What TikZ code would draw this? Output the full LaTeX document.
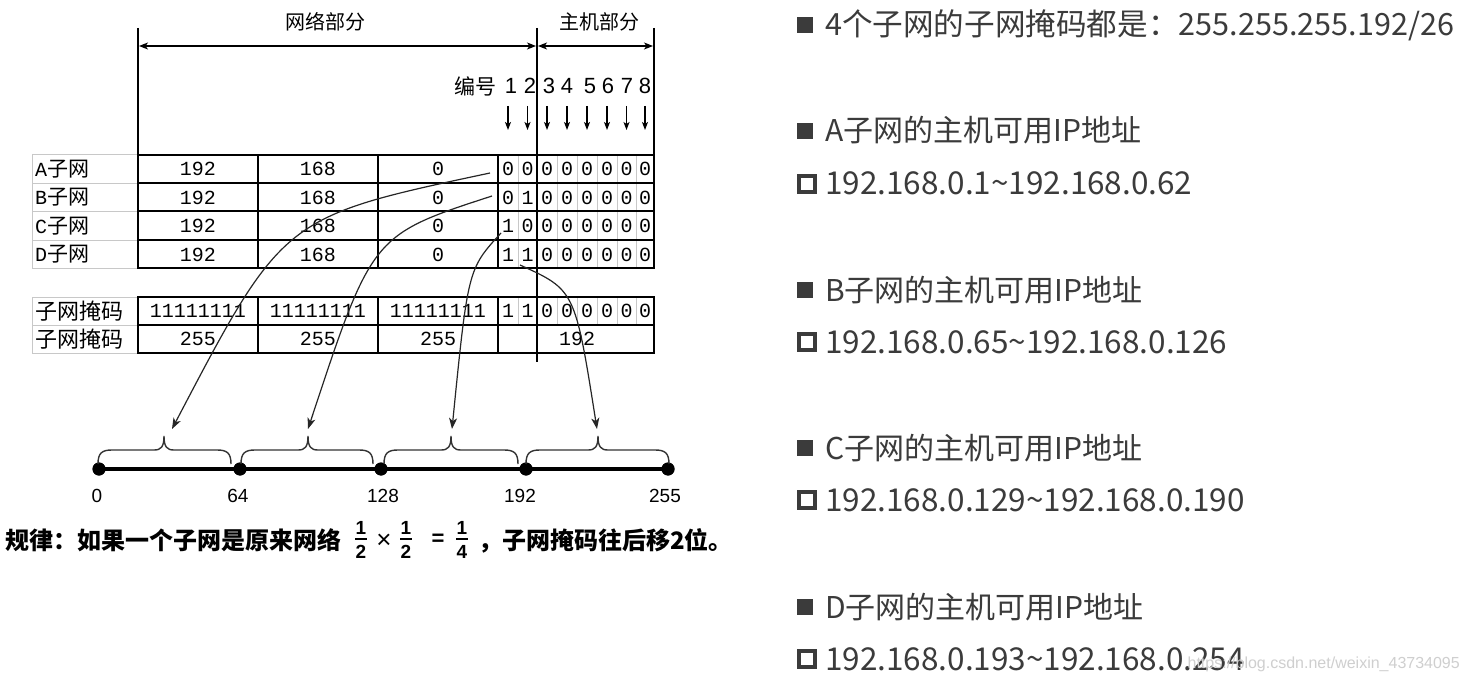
\documentclass[tikz,border=0pt]{standalone}
\usepackage{fontspec}
\setmainfont{Liberation Sans}
\newfontfamily\cjk{Noto Sans CJK SC}
\newfontfamily\tabmono{Liberation Mono}
\usetikzlibrary{arrows.meta}
\definecolor{txtgray}{HTML}{3B3B3B}
\definecolor{gridgray}{HTML}{C8C8C8}
\definecolor{wmgray}{HTML}{CFCFCF}
\newcommand\fsz[1]{\fontsize{#1}{#1}\selectfont}
\begin{document}
\begin{tikzpicture}[x=1pt,y=-1pt,
  thickline/.style={line width=2.6pt, line cap=rect},
  thinline/.style={line width=1.2pt},
  gridline/.style={draw=gridgray, line width=0.9pt},
  lbl/.style={inner sep=0pt, anchor=west},
  cell/.style={inner sep=0pt, font=\tabmono\fsz{20}},
  hdr/.style={inner sep=0pt, font=\cjk\fsz{20}},
  numlbl/.style={inner sep=0pt, font=\fsz{22}},
  tipA/.style={-{Stealth[length=11pt,width=8pt,inset=3pt]}},
  curvearrow/.style={draw=black!85, line width=1.2pt, tipA},
  bracestyle/.style={draw=black!80, line width=1.4pt},
  dotnode/.style={circle, fill=black, inner sep=0pt, minimum size=13pt},
  axlbl/.style={inner sep=0pt, font=\fsz{19}},
  rtext/.style={inner sep=0pt, anchor=base west, text=txtgray, font=\cjk\fsz{30}},
  rnum/.style={inner sep=0pt, anchor=base west, text=txtgray, font=\cjk\fsz{31.5}},
  fullsq/.style={fill=txtgray, draw=none, inner sep=0pt, minimum size=16pt},
  hollowsq/.style={draw=txtgray, line width=3.6pt, inner sep=0pt, minimum size=16pt},
  ruletext/.style={inner sep=0pt, anchor=base west, font=\cjk\bfseries\fsz{24}},
  fracdig/.style={inner sep=0pt, font=\bfseries\fsz{19}},
  fracbar/.style={line width=2.6pt}
]
\fill[white] (0,0) rectangle (1468,682);
\useasboundingbox (0,0) rectangle (1468,682);

% ---------------- header ----------------
\node[hdr] (net) at (325,22) {网络部分};
\node[hdr] (host) at (599,22) {主机部分};
\coordinate (topL) at (138,28);
\coordinate (topM) at (537,28);
\coordinate (topR) at (654,28);
\coordinate (botL) at (138,155);
\coordinate (botM) at (537,362);
\coordinate (botR) at (654,155);
\draw[thinline] (topL) -- (botL);
\draw[thinline] (topM) -- (botM);
\draw[thinline] (topR) -- (botR);
\coordinate (arL) at (139,46);
\coordinate (arM1) at (536,46);
\coordinate (arM2) at (538,46);
\coordinate (arR) at (653,46);
\draw[thinline,{Stealth[length=9pt,width=7pt,inset=2.5pt]}-{Stealth[length=9pt,width=7pt,inset=2.5pt]}] (arL) -- (arM1);
\draw[thinline,{Stealth[length=9pt,width=7pt,inset=2.5pt]}-{Stealth[length=9pt,width=7pt,inset=2.5pt]}] (arM2) -- (arR);

\node[inner sep=0pt, font=\cjk\fsz{21}] (bh) at (475,86) {编号};
\foreach \i/\x/\ax in {1/511/508,2/530/527.5,3/549/547,4/567/567,5/590/587,6/608/607,7/627/626.5,8/645/645} {
  \node[numlbl] (n\i) at (\x,86) {\i};
  \coordinate (ua\i) at (\ax,106);
  \coordinate (ub\i) at (\ax,130);
  \draw[thinline,-{Stealth[length=8pt,width=6pt,inset=2pt]}] (ua\i) -- (ub\i);
}

% ---------------- label grid ----------------
\foreach \y in {154,183,211,240,268} \draw[gridline] (32,\y) -- (138,\y);
\draw[gridline] (32,154) -- (32,268);
\foreach \y in {297,325,353} \draw[gridline] (32,\y) -- (138,\y);
\draw[gridline] (32,297) -- (32,353);

\node[lbl] (la) at (35,169) {{\tabmono\fsz{20}A}{\cjk\fsz{21}子网}};
\node[lbl] (lb) at (35,197.5) {{\tabmono\fsz{20}B}{\cjk\fsz{21}子网}};
\node[lbl] (lc) at (35,226) {{\tabmono\fsz{20}C}{\cjk\fsz{21}子网}};
\node[lbl] (ld) at (35,254.5) {{\tabmono\fsz{20}D}{\cjk\fsz{21}子网}};
\node[lbl] (lm1) at (35,311) {\cjk\fsz{22}子网掩码};
\node[lbl] (lm2) at (35,339) {\cjk\fsz{22}子网掩码};

% ---------------- table ----------------
\foreach \x in {518,557,577,597,617,636} {
  \draw[gridline] (\x,155) -- (\x,268);
  \draw[gridline] (\x,297) -- (\x,325);
}
\draw[thinline] (537,150) -- (537,362);
\draw[thickline] (138,155) rectangle (654,268);
\foreach \y in {183,211,240} \draw[thickline] (138,\y) -- (654,\y);
\foreach \x in {258,378,498} \draw[thickline] (\x,155) -- (\x,268);
\draw[thickline] (138,297) rectangle (654,353);
\draw[thickline] (138,325) -- (654,325);
\foreach \x in {258,378,498} \draw[thickline] (\x,297) -- (\x,353);

\foreach \r/\y in {a/169,b/197.5,c/226,d/254.5} {
  \node[cell] (\r-1) at (198,\y) {192};
  \node[cell] (\r-2) at (318,\y) {168};
  \node[cell] (\r-3) at (438,\y) {0};
}
\foreach \r/\y/\p/\q in {a/169/0/0,b/197.5/0/1,c/226/1/0,d/254.5/1/1,m/311/1/1} {
  \node[cell] (\r-b1) at (508,\y) {\p};
  \node[cell] (\r-b2) at (527.5,\y) {\q};
  \foreach \k/\x in {3/547,4/567,5/587,6/607,7/626.5,8/645}
    \node[cell] (\r-b\k) at (\x,\y) {0};
}
\node[cell] (m-1) at (198,311) {11111111};
\node[cell] (m-2) at (318,311) {11111111};
\node[cell] (m-3) at (438,311) {11111111};
\node[cell] (v-1) at (198,339) {255};
\node[cell] (v-2) at (318,339) {255};
\node[cell] (v-3) at (438,339) {255};
\node[cell] (v-4) at (577,339) {192};

% ---------------- number line ----------------
\node[dotnode] (d0) at (99,469) {};
\node[dotnode] (d1) at (240,469) {};
\node[dotnode] (d2) at (381,469) {};
\node[dotnode] (d3) at (526,469) {};
\node[dotnode] (d4) at (668,469) {};
\draw[line width=4pt] (d0.center) -- (d4.center);
\foreach \n in {d0,d1,d2,d3,d4} \fill (\n) circle (6.5pt);
\node[axlbl] (x0) at (97,496) {0};
\node[axlbl] (x1) at (238,496) {64};
\node[axlbl] (x2) at (383,496) {128};
\node[axlbl] (x3) at (520,496) {192};
\node[axlbl] (x4) at (665,496) {255};

\foreach \a/\b/\t in {98/231/164,241/373/308,384/518/451,526/669/598} {
  \draw[bracestyle] (\a,464) .. controls (\a,453) and (\a+4,450) .. (\a+14,450)
     -- (\t-10,450) .. controls (\t-3,450) and (\t,447) .. (\t,436)
     .. controls (\t,447) and (\t+3,450) .. (\t+10,450)
     -- (\b-14,450) .. controls (\b-4,450) and (\b,453) .. (\b,464);
}

% ---------------- curved arrows ----------------
\coordinate (sA) at (490,173);
\coordinate (sB) at (492,196);
\coordinate (sC) at (501,233);
\coordinate (sD) at (520,265);
\coordinate (tA) at (172,429);
\coordinate (tB) at (308,429);
\coordinate (tC) at (452,429);
\coordinate (tD) at (597,429);
\draw[curvearrow] (sA) .. controls (283,217) .. (tA);
\draw[curvearrow] (sB) .. controls (372,235) .. (tB);
\draw[curvearrow] (sC) .. controls (468,269) .. (tC);
\draw[curvearrow] (sD) .. controls (575,290) .. (tD);

% ---------------- rule text ----------------
\node[ruletext] (r1) at (5,549) {规律：如果一个子网是原来网络};
\node[fracdig] (f1n) at (361,528) {1};
\node[fracdig] (f1d) at (361,552) {2};
\draw[fracbar] (355,539) -- (367,539);
\node[inner sep=0pt, font=\fsz{26}] (times) at (384,541) {×};
\node[fracdig] (f2n) at (406,528) {1};
\node[fracdig] (f2d) at (406,552) {2};
\draw[fracbar] (400,539) -- (412,539);
\node[inner sep=0pt, font=\bfseries\fsz{22}] (eq) at (438,540) {=};
\node[fracdig] (f3n) at (462,528) {1};
\node[fracdig] (f3d) at (462,552) {4};
\draw[fracbar] (456,539) -- (468,539);
\node[ruletext] (r2) at (478,549) {，子网掩码往后移2位。};

% ---------------- right column ----------------
\node[fullsq] (q1) at (805,25) {};
\node[rtext, font=\cjk\fsz{30.6}] (t1) at (825,36) {4个子网的子网掩码都是：255.255.255.192/26};
\node[fullsq] (q2) at (805,131) {};
\node[rtext] (t2) at (825,142) {A子网的主机可用IP地址};
\node[hollowsq] (q3) at (807,184) {};
\node[rnum] (t3) at (825,195) {192.168.0.1\textasciitilde192.168.0.62};
\node[fullsq] (q4) at (805,290) {};
\node[rtext] (t4) at (825,301) {B子网的主机可用IP地址};
\node[hollowsq] (q5) at (807,342) {};
\node[rnum] (t5) at (825,353) {192.168.0.65\textasciitilde192.168.0.126};
\node[fullsq] (q6) at (805,448) {};
\node[rtext] (t6) at (825,459) {C子网的主机可用IP地址};
\node[hollowsq] (q7) at (807,500) {};
\node[rnum] (t7) at (825,511) {192.168.0.129\textasciitilde192.168.0.190};
\node[fullsq] (q8) at (805,607) {};
\node[rtext] (t8) at (825,618) {D子网的主机可用IP地址};
\node[hollowsq] (q9) at (807,659) {};
\node[rnum] (t9) at (825,670) {192.168.0.193\textasciitilde192.168.0.254};

\node[inner sep=0pt, anchor=base east, text=wmgray, font=\fsz{16}] (wm) at (1460,668) {https://blog.csdn.net/weixin\_43734095};
\end{tikzpicture}
\end{document}
